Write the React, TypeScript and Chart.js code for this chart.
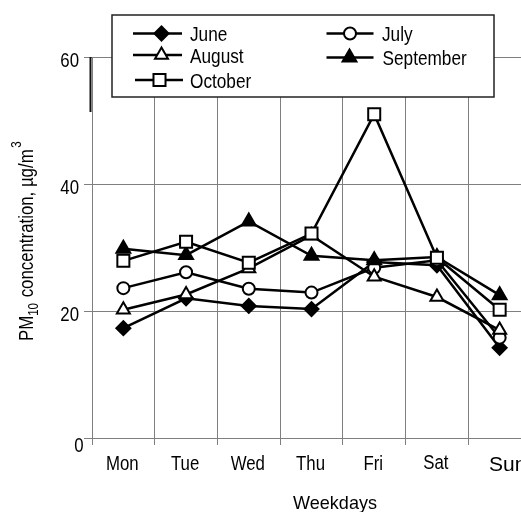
import { useEffect, useRef } from "react";
import { Chart, registerables } from "chart.js";

Chart.register(...registerables);

// Weekly PM10 profile, one series per month
const weekdays = ["Mon", "Tue", "Wed", "Thu", "Fri", "Sat", "Sun"];
const june = [17.3, 22.0, 20.8, 20.3, 27.7, 27.2, 14.2];
const july = [23.6, 26.1, 23.5, 22.9, 26.8, 28.0, 15.8];
const august = [20.2, 22.6, 26.7, 31.9, 25.4, 22.2, 17.0];
const september = [29.8, 28.8, 34.1, 28.7, 28.0, 28.5, 22.5];
const october = [27.9, 30.9, 27.6, 32.2, 51.0, 28.4, 20.2];
const yTickValues = [0, 20, 40, 60];

const FONT = "'Liberation Sans', Arial, Helvetica, sans-serif";
const NARROW = 0.82;
const GRID = "#7f7f7f";
const INK = "#000000";

type Series = {
  label: string;
  data: number[];
  pointStyle: "rectRot" | "circle" | "triangle" | "rect";
  radius: number;
  filled: boolean;
  order: number;
};

const series: Series[] = [
  { label: "June", data: june, pointStyle: "rectRot", radius: 7, filled: true, order: 4 },
  { label: "July", data: july, pointStyle: "circle", radius: 6, filled: false, order: 3 },
  { label: "August", data: august, pointStyle: "triangle", radius: 7.5, filled: false, order: 2 },
  { label: "September", data: september, pointStyle: "triangle", radius: 8, filled: true, order: 1 },
  { label: "October", data: october, pointStyle: "rect", radius: 8.5, filled: false, order: 0 },
];

function drawMarker(
  ctx: CanvasRenderingContext2D,
  style: Series["pointStyle"],
  x: number,
  y: number,
  r: number,
  filled: boolean
) {
  ctx.beginPath();
  if (style === "rectRot") {
    ctx.moveTo(x - r, y);
    ctx.lineTo(x, y - r);
    ctx.lineTo(x + r, y);
    ctx.lineTo(x, y + r);
    ctx.closePath();
  } else if (style === "circle") {
    ctx.arc(x, y, r, 0, Math.PI * 2);
  } else if (style === "triangle") {
    for (let k = 0; k < 3; k++) {
      const a = -Math.PI / 2 + (k * 2 * Math.PI) / 3;
      const px = x + Math.cos(a) * r;
      const py = y + Math.sin(a) * r;
      if (k === 0) ctx.moveTo(px, py);
      else ctx.lineTo(px, py);
    }
    ctx.closePath();
  } else {
    const s = Math.SQRT1_2 * r;
    ctx.rect(x - s, y - s, 2 * s, 2 * s);
  }
  ctx.fillStyle = filled ? INK : "#ffffff";
  ctx.fill();
  ctx.lineWidth = 2;
  ctx.strokeStyle = INK;
  ctx.stroke();
}

// condensed sans text: regular face squeezed horizontally
function narrowText(
  ctx: CanvasRenderingContext2D,
  text: string,
  x: number,
  y: number,
  size: number,
  align: CanvasTextAlign,
  squeeze = NARROW
) {
  ctx.save();
  ctx.translate(x, y);
  ctx.scale(squeeze, 1);
  ctx.font = `${size}px ${FONT}`;
  ctx.textAlign = align;
  ctx.fillText(text, 0, 0);
  ctx.restore();
}

function narrowWidth(ctx: CanvasRenderingContext2D, text: string, size: number) {
  ctx.save();
  ctx.font = `${size}px ${FONT}`;
  const w = ctx.measureText(text).width * NARROW;
  ctx.restore();
  return w;
}

// Legend layout: [lineStart, markerX, lineEnd, textX, lineY, textBaseline]
const legendSlots: Record<string, number[]> = {
  June: [133, 161.5, 182, 190, 33.5, 41],
  August: [133, 161.5, 182, 190, 55, 63],
  October: [135, 159.5, 183, 190, 80, 87.5],
  July: [326.5, 350, 373.5, 382, 33.5, 41],
  September: [326.5, 349.5, 373.5, 382.5, 57.5, 65],
};

const annotations = {
  id: "annotations",
  afterDraw(chart: Chart) {
    const ctx = chart.ctx;
    const xs = chart.scales.x;
    const ys = chart.scales.y;
    ctx.save();

    // dark stub on the upper part of the value axis
    ctx.strokeStyle = "#111";
    ctx.lineWidth = 2;
    ctx.beginPath();
    ctx.moveTo(90.5, ys.getPixelForValue(60));
    ctx.lineTo(90.5, 112);
    ctx.stroke();

    // value-axis tick labels
    ctx.fillStyle = INK;
    ctx.textBaseline = "alphabetic";
    yTickValues.forEach((v) => {
      const py = ys.getPixelForValue(v);
      if (v === 0) narrowText(ctx, String(v), 83.5, py + 14, 20.5, "right");
      else narrowText(ctx, String(v), 79, py + 9.5, 20.5, "right");
    });

    // weekday labels
    weekdays.forEach((d, i) => {
      const px = xs.getPixelForTick(i);
      if (i === weekdays.length - 1) {
        ctx.font = `21px ${FONT}`;
        ctx.textAlign = "left";
        ctx.fillText(d, 489, 471);
      } else {
        narrowText(ctx, d, px - 1, i === 5 ? 468.5 : 470, 20.5, "center");
      }
    });

    // axis titles
    narrowText(ctx, "Weekdays", 335, 508.5, 19, "center", 0.95);

    ctx.save();
    ctx.translate(33, 341);
    ctx.rotate(-Math.PI / 2);
    let cx = 0;
    narrowText(ctx, "PM", cx, 0, 20.5, "left");
    cx += narrowWidth(ctx, "PM", 20.5);
    narrowText(ctx, "10", cx, 4.5, 14, "left");
    cx += narrowWidth(ctx, "10", 14) + 1;
    const main = " concentration, µg/m";
    narrowText(ctx, main, cx, 0, 20.5, "left");
    cx += narrowWidth(ctx, main, 20.5) + 1.5;
    narrowText(ctx, "3", cx, -12, 14, "left");
    ctx.restore();

    // legend box
    ctx.fillStyle = "#ffffff";
    ctx.fillRect(112, 15, 382, 82);
    ctx.strokeStyle = "#222";
    ctx.lineWidth = 1.5;
    ctx.strokeRect(112, 15, 382, 82);

    series.forEach((s) => {
      const [x0, mx, x1, tx, ly, tb] = legendSlots[s.label];
      ctx.strokeStyle = INK;
      ctx.lineWidth = 2.5;
      ctx.beginPath();
      ctx.moveTo(x0, ly);
      ctx.lineTo(x1, ly);
      ctx.stroke();
      drawMarker(ctx, s.pointStyle, mx, ly, s.radius, s.filled);
      ctx.fillStyle = INK;
      narrowText(ctx, s.label, tx, tb, 21, "left");
    });

    ctx.restore();
  },
};

export default function App() {
  const canvasRef = useRef<HTMLCanvasElement | null>(null);

  useEffect(() => {
    const canvas = canvasRef.current;
    if (!canvas) return;
    const chart = new Chart(canvas, {
      type: "line",
      data: {
        labels: weekdays,
        datasets: series.map((s) => ({
          label: s.label,
          data: s.data,
          order: s.order,
          borderColor: INK,
          borderWidth: 2.5,
          tension: 0,
          pointStyle: s.pointStyle,
          pointRadius: s.radius,
          pointHoverRadius: s.radius,
          pointBorderWidth: 2,
          pointBorderColor: INK,
          pointBackgroundColor: s.filled ? INK : "#ffffff",
        })),
      },
      options: {
        responsive: false,
        animation: false,
        devicePixelRatio: 1,
        layout: { padding: { left: 0, right: 0, top: 57, bottom: 0 }, autoPadding: false },
        plugins: {
          legend: { display: false },
          tooltip: { enabled: false },
        },
        scales: {
          x: {
            type: "category",
            offset: true,
            grid: { offset: true, color: GRID, lineWidth: 1, tickLength: 7, drawTicks: true },
            border: { color: GRID, width: 1 },
            ticks: { display: false },
            afterFit: (scale: any) => {
              scale.height = 74;
            },
          },
          y: {
            min: 0,
            max: 60,
            grid: { color: GRID, lineWidth: 1, tickLength: 8, drawTicks: true },
            border: { color: GRID, width: 1 },
            ticks: { display: false, stepSize: 20 },
            afterFit: (scale: any) => {
              scale.width = 92;
            },
          },
        },
      },
      plugins: [annotations],
    });
    return () => chart.destroy();
  }, []);

  return (
    <div
      style={{
        position: "fixed",
        left: 0,
        top: 0,
        width: 521,
        height: 512,
        overflow: "hidden",
        background: "#ffffff",
      }}
    >
      <canvas ref={canvasRef} width={531} height={512} style={{ display: "block" }} />
    </div>
  );
}
